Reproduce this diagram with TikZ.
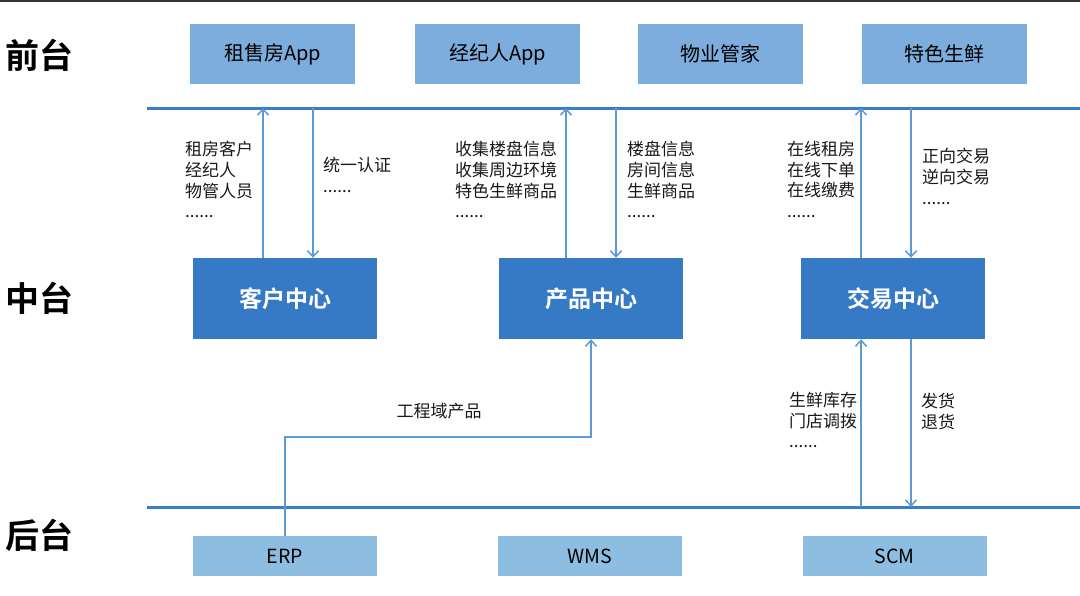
\documentclass[tikz,border=0pt]{standalone}
\usepackage{fontspec}
\setmainfont{Noto Sans CJK SC}[BoldFont={Noto Sans CJK SC Bold}]
\usetikzlibrary{arrows.meta}
\definecolor{topfill}{RGB}{125,173,220}
\definecolor{midfill}{RGB}{54,122,197}
\definecolor{botfill}{RGB}{141,189,224}
\definecolor{linec}{RGB}{59,125,196}
\definecolor{arrc}{RGB}{91,155,213}
\tikzset{
  layer/.style={font=\fontsize{34}{36}\selectfont\bfseries, text=black, inner sep=0},
  topbox/.style={fill=topfill, minimum width=165pt, minimum height=60pt, inner sep=0, font=\fontsize{20}{22}\selectfont},
  midbox/.style={fill=midfill, minimum width=184pt, minimum height=81pt, inner sep=0, text=white, font=\fontsize{23}{25}\selectfont\bfseries},
  botbox/.style={fill=botfill, minimum width=184pt, minimum height=40pt, inner sep=0, font=\fontsize{19.5}{21}\selectfont},
  sepline/.style={draw=linec, line width=3pt},
  arr/.style={draw=arrc, line width=1.5pt, -{Straight Barb[length=6pt,width=11pt,line width=1.5pt]}},
  lbl/.style={anchor=north west, inner sep=0, align=left, font=\fontsize{17}{20.7}\selectfont, text=black!90}
}
\begin{document}
\begin{tikzpicture}[x=1pt,y=-1pt]
\useasboundingbox (0,0) rectangle (1080,595);
\fill[black!80] (0,0) rectangle (1080,2);
% layer labels
\node[layer, anchor=west] (lq) at (5,55) {前台};
\node[layer, anchor=west] (lz) at (5,298) {中台};
\node[layer, anchor=west] (lh) at (5,535) {后台};
% separator lines
\coordinate (tl) at (147,108);
\coordinate (tr) at (1080,108);
\coordinate (bl) at (147,507);
\coordinate (br) at (1080,507);
\draw[sepline] (tl) -- (tr);
\draw[sepline] (bl) -- (br);
% top boxes
\node[topbox] (t1) at (272.5,54) {租售房App};
\node[topbox] (t2) at (497.5,54) {经纪人App};
\node[topbox] (t3) at (720.5,54) {物业管家};
\node[topbox] (t4) at (944,54) {特色生鲜};
% middle boxes
\node[midbox] (kh) at (285,298.5) {客户中心};
\node[midbox] (cp) at (591,298.5) {产品中心};
\node[midbox] (jy) at (893,298.5) {交易中心};
% bottom boxes
\node[botbox] (erp) at (285,556) {ERP};
\node[botbox] (wms) at (590,556) {WMS};
\node[botbox] (scm) at (894.5,556) {SCM};
% arrows middle <-> top line
\draw[arr] ([xshift=-22pt]kh.north) -- ([xshift=-22pt]kh.north |- tl);
\draw[arr] ([xshift=28pt]kh.north |- tl) -- ([xshift=28pt]kh.north);
\draw[arr] ([xshift=-25pt]cp.north) -- ([xshift=-25pt]cp.north |- tl);
\draw[arr] ([xshift=25pt]cp.north |- tl) -- ([xshift=25pt]cp.north);
\draw[arr] ([xshift=-32pt]jy.north) -- ([xshift=-32pt]jy.north |- tl);
\draw[arr] ([xshift=18pt]jy.north |- tl) -- ([xshift=18pt]jy.north);
% arrows trade <-> bottom line
\draw[arr] ([xshift=-32pt]jy.south |- bl) -- ([xshift=-32pt]jy.south);
\draw[arr] ([xshift=18pt]jy.south) -- ([xshift=18pt]jy.south |- bl);
% ERP -> product
\coordinate (bend) at (285,437);
\draw[arr] (erp.north) -- (bend) -| (cp.south);
% labels
\node[lbl] (a1) at (185,141) {租房客户\\经纪人\\物管人员\\......};
\node[lbl] (a2) at (323,157) {统一认证\\......};
\node[lbl] (a3) at (455,141) {收集楼盘信息\\收集周边环境\\特色生鲜商品\\......};
\node[lbl] (a4) at (627,141) {楼盘信息\\房间信息\\生鲜商品\\......};
\node[lbl] (a5) at (787,141) {在线租房\\在线下单\\在线缴费\\......};
\node[lbl] (a6) at (922,148) {正向交易\\逆向交易\\......};
\node[lbl] (a7) at (789,392) {生鲜库存\\门店调拨\\......};
\node[lbl] (a8) at (921,393) {发货\\退货};
\node[font=\fontsize{17}{20}\selectfont, text=black!90, inner sep=0] (a9) at (439,411) {工程域产品};
\end{tikzpicture}
\end{document}
